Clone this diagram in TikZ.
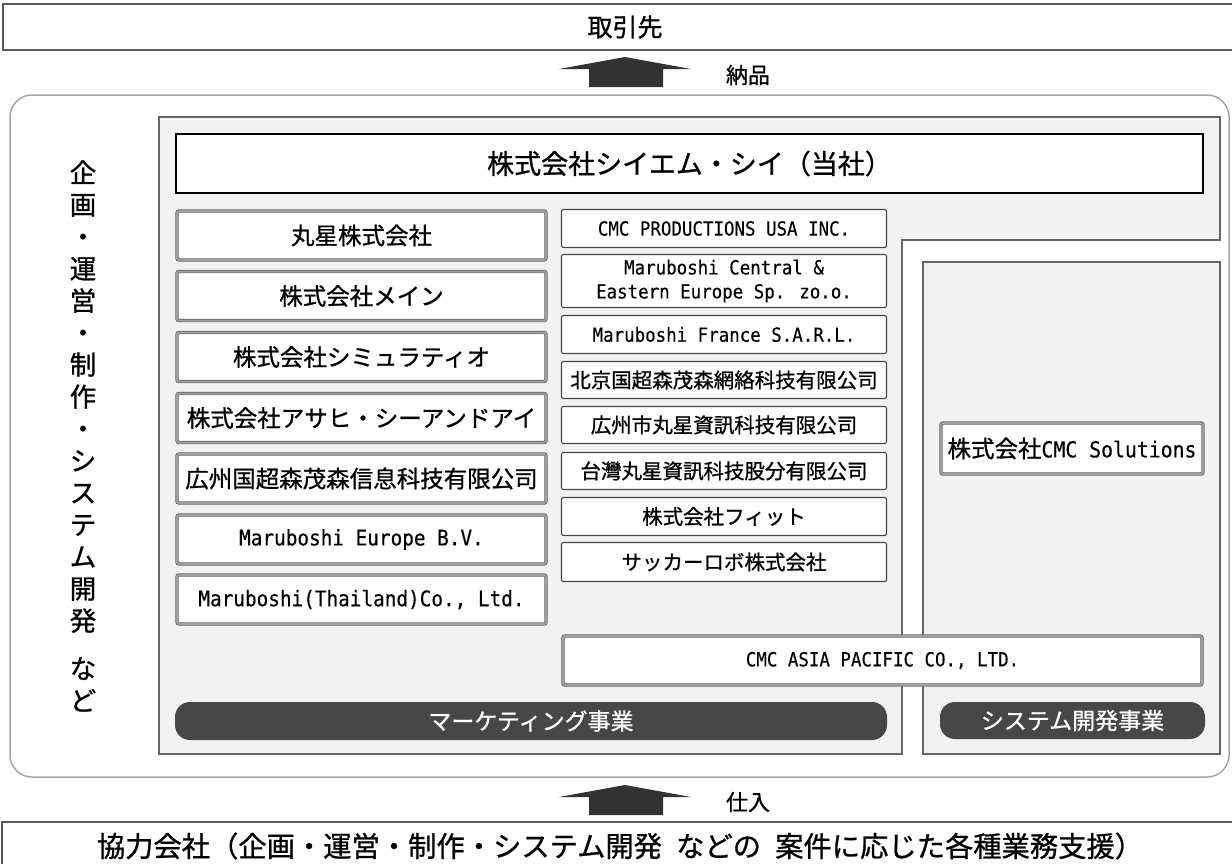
\documentclass[tikz,border=0pt]{standalone}
\usepackage{fontspec}
\setmainfont{Noto Sans CJK JP}[FakeBold=0.9]
\newfontfamily\monof{DejaVu Sans Mono}[FakeStretch=0.9,FakeBold=0.3]
\newcommand\latL[1]{{\monof\fontsize{21.5}{26}\selectfont #1}}
\newcommand\latM[1]{{\monof\fontsize{19.4}{25}\selectfont #1}}
\begin{document}
\begin{tikzpicture}[x=1pt,y=-1pt,
  dbl/.style={draw=black!62, line width=0.7pt, double=black!38, double distance=2pt,
              fill=white, rounded corners=2pt, inner sep=0pt},
  lbox/.style={dbl, minimum width=369pt, minimum height=49pt, font=\fontsize{23.5}{28}\selectfont},
  mbox/.style={draw=black!72, line width=1.1pt, fill=white, rounded corners=2pt, inner sep=0pt,
               minimum width=325pt, font=\fontsize{20.5}{25}\selectfont},
  panel/.style={draw=black!60, line width=1.2pt, fill=black!5},
  bar/.style={fill=black!72, rounded corners=15pt, text=white, inner sep=0pt,
              font=\fontsize{23}{27}\selectfont},
  blk/.style={fill=black!80},
  wide/.style={draw=black!65, line width=1.5pt, fill=white, inner sep=0pt, minimum height=46pt},
  lbl/.style={font=\fontsize{22}{26}\selectfont, inner sep=0pt}
]
\useasboundingbox (0,0) rectangle (1232,863);
\fill[white] (0,0) rectangle (1232,863);

% top and bottom partners
\node[wide, minimum width=1244pt, font=\fontsize{25}{30}\selectfont] (client) at (625,27) {取引先};
\node[wide, minimum width=1236pt, minimum height=48pt, font=\fontsize{28.3}{32}\selectfont] (partner) at (620,846)
  {協力会社（企画・運営・制作・システム開発\hspace{0.5em}などの\hspace{0.5em}案件に応じた各種業務支援）};

% outer rounded frame
\draw[draw=black!35, line width=1.5pt, fill=white, rounded corners=22pt] (10,95) rectangle (1229,777);

% panels
\draw[panel] (159,117) -- (1220,117) -- (1220,240) -- (902,240) -- (902,754) -- (159,754) -- cycle;
\draw[panel] (923,262) rectangle (1220,754);

% main company
\node[draw=black, line width=2.5pt, fill=white, inner sep=0pt, minimum width=1027pt, minimum height=59pt,
      font=\fontsize{27}{32}\selectfont] (cmc) at (689.5,163.5) {株式会社シイエム・シイ（当社）};

% left column
\node[lbox] (l1) at (361.5,235.5) {丸星株式会社};
\node[lbox] (l2) at (361.5,296) {株式会社メイン};
\node[lbox] (l3) at (361.5,357) {株式会社シミュラティオ};
\node[lbox] (l4) at (361.5,418) {株式会社アサヒ・シーアンドアイ};
\node[lbox] (l5) at (361.5,478.5) {広州国超森茂森信息科技有限公司};
\node[lbox] (l6) at (361.5,539.5) {\latL{Maruboshi Europe B.V.}};
\node[lbox] (l7) at (361.5,599.5) {\latL{Maruboshi(Thailand)Co., Ltd.}};

% middle column
\node[mbox, minimum height=38pt] (c1) at (724,228.5) {\latM{CMC PRODUCTIONS USA INC.}};
\node[mbox, minimum height=53pt, align=center] (c2) at (724,281)
  {\latM{Maruboshi Central \&}\\[-1pt]\latM{Eastern Europe Sp. zo.o.}};
\node[mbox, minimum height=38pt] (c3) at (724,334.5) {\latM{Maruboshi France S.A.R.L.}};
\node[mbox, minimum height=37pt] (c4) at (724,380) {北京国超森茂森網絡科技有限公司};
\node[mbox, minimum height=37pt] (c5) at (724,425) {広州市丸星資訊科技有限公司};
\node[mbox, minimum height=37pt] (c6) at (724,471) {台灣丸星資訊科技股分有限公司};
\node[mbox, minimum height=38pt] (c7) at (724,516.5) {株式会社フィット};
\node[mbox, minimum height=39pt] (c8) at (724,562) {サッカーロボ株式会社};

% spanning and right boxes
\node[dbl, minimum width=639pt, minimum height=49pt] (asia) at (882.5,660.5) {\latM{CMC ASIA PACIFIC CO., LTD.}};
\node[dbl, minimum width=262pt, minimum height=51pt] (sol) at (1072,448.5)
  {{\fontsize{23.5}{28}\selectfont 株式会社}{\monof\fontsize{22}{26}\selectfont CMC Solutions}};

% business bars
\node[bar, minimum width=712pt, minimum height=38pt] (mkt) at (531,721) {マーケティング事業};
\node[bar, minimum width=265pt, minimum height=37pt] (sys) at (1072.5,720.5) {システム開発事業};

% vertical label
\node[font=\fontsize{26.5}{32}\selectfont, align=center, inner sep=0pt] (vt) at (83,436)
  {企\\画\\・\\運\\営\\・\\制\\作\\・\\シ\\ス\\テ\\ム\\開\\発\\[16pt]な\\ど};

% block arrows
\fill[blk] (559,69) -- (625,57) -- (691,69) -- (663,69) -- (663,87) -- (589,87) -- (589,69) -- cycle;
\fill[blk] (559,797) -- (625,785) -- (691,797) -- (663,797) -- (663,815) -- (589,815) -- (589,797) -- cycle;
\node[lbl] (deliv) at (748,75) {納品};
\node[lbl] (buy) at (748,802) {仕入};
\end{tikzpicture}
\end{document}
